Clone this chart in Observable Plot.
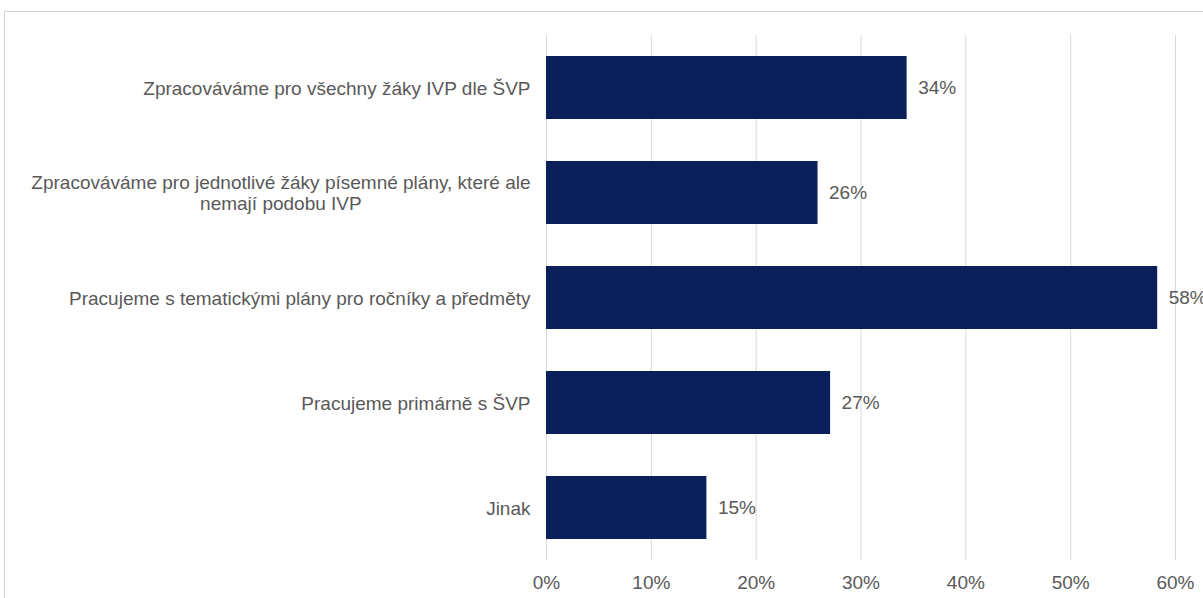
<!DOCTYPE html>
<html>
<head>
<meta charset="utf-8">
<script src="https://cdn.jsdelivr.net/npm/d3@7"></script>
<script src="https://cdn.jsdelivr.net/npm/@observablehq/plot@0.6"></script>
<style>
  html, body { margin: 0; padding: 0; background: #fff; }
  #wrap { position: relative; width: 1203px; height: 598px; overflow: hidden; }
  #frame { position: absolute; left: 4px; top: 11px; width: 1210px; height: 600px;
           border-left: 1px solid #d0d0d0; border-top: 1px solid #d0d0d0; box-sizing: border-box; }
  #chart { position: absolute; left: 0; top: 0; }
</style>
</head>
<body>
<div id="wrap"><div id="frame"></div><div id="chart"></div></div>
<script>
const categories = [
  "Zpracováváme pro všechny žáky IVP dle ŠVP",
  "Zpracováváme pro jednotlivé žáky písemné plány, které ale nemají podobu IVP",
  "Pracujeme s tematickými plány pro ročníky a předměty",
  "Pracujeme primárně s ŠVP",
  "Jinak"
];
const tickLabels = [
  "Zpracováváme pro všechny žáky IVP dle ŠVP",
  "Zpracováváme pro jednotlivé žáky písemné plány, které ale\nnemají podobu IVP",
  "Pracujeme s tematickými plány pro ročníky a předměty",
  "Pracujeme primárně s ŠVP",
  "Jinak"
];
const values = [0.344, 0.259, 0.583, 0.271, 0.153];
const xTicks = [0, 0.1, 0.2, 0.3, 0.4, 0.5, 0.6];

const data = categories.map((c, i) => ({category: c, value: values[i]}));
const labelOf = new Map(categories.map((c, i) => [c, tickLabels[i]]));
const pct = d3.format(".0%");
const textColor = "#595959";
const font = "Liberation Sans, Arial, sans-serif";
const fs = 19;

const chart = Plot.plot({
  width: 1203,
  height: 598,
  marginLeft: 546,
  marginRight: 28,
  marginTop: 35,
  marginBottom: 38,
  style: {fontFamily: font, fontSize: fs + "px", color: textColor, background: "transparent"},
  x: {domain: [0, 0.6], ticks: xTicks, label: null},
  y: {domain: categories, label: null, paddingInner: 0.4, paddingOuter: 0.2},
  marks: [
    Plot.gridX(xTicks, {stroke: "#d9d9d9", strokeOpacity: 1, strokeWidth: 1}),
    Plot.barX(data, {x: "value", y: "category", fill: "#0b1f5b"}),
    Plot.text(data, {x: "value", y: "category", text: d => pct(d.value), textAnchor: "start", dx: 11, fill: textColor, fontSize: fs}),
    Plot.axisX({ticks: xTicks, tickFormat: d3.format(".0%"), tickSize: 0, tickPadding: 15, label: null, fill: textColor, fontSize: fs}),
    Plot.axisY({tickSize: 0, tickPadding: 16, tickFormat: d => labelOf.get(d), label: null, fill: textColor, fontSize: fs, lineHeight: 1.1})
  ]
});
document.getElementById("chart").appendChild(chart);

// center multi-line tick labels like the original
chart.querySelectorAll("g[aria-label='y-axis tick label'] text").forEach(t => {
  const spans = t.querySelectorAll("tspan");
  if (spans.length > 1) {
    const w = t.getBBox().width;
    t.setAttribute("text-anchor", "middle");
    spans.forEach(s => s.setAttribute("x", -w / 2));
  }
});
</script>
</body>
</html>
